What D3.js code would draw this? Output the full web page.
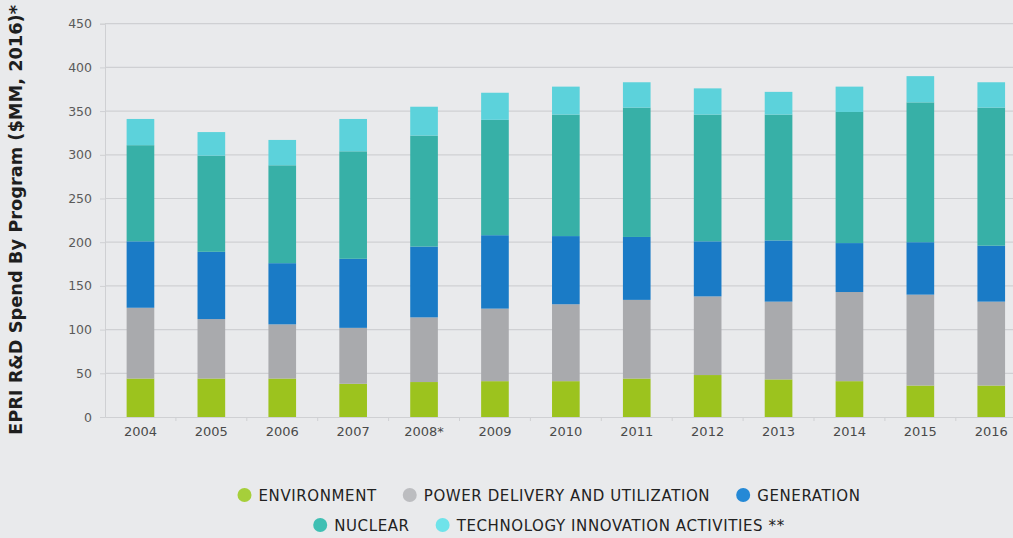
<!DOCTYPE html>
<html><head><meta charset="utf-8">
<script src="https://cdn.jsdelivr.net/npm/d3@7"></script>
<style>
html,body{margin:0;padding:0;background:#e9eaec;}
svg{display:block;}
</style></head>
<body>
<svg id="chart" width="1013" height="538"></svg>
<script>
const years = ["2004","2005","2006","2007","2008*","2009","2010","2011","2012","2013","2014","2015","2016"];
const environment = [44,44,44,38,40,41,41,44,48,43,41,36,36];
const powerDelivery = [81,68,62,64,74,83,88,90,90,89,102,104,96];
const generation = [76,77,70,79,81,84,78,72,63,70,56,60,64];
const nuclear = [110,110,112,123,127,132,139,148,145,144,150,160,158];
const techInnovation = [30,27,29,37,33,31,32,29,30,26,29,30,29];
const yTicks = [0,50,100,150,200,250,300,350,400,450];
const seriesNames = ["ENVIRONMENT","POWER DELIVERY AND UTILIZATION","GENERATION","NUCLEAR","TECHNOLOGY INNOVATION ACTIVITIES **"];
const seriesKeys = ["env","pd","gen","nuc","tech"];
const colors = ["#9cc31e","#a9aaad","#1a7bc6","#37b0a7","#5cd2db"];
const legendColors = ["#a6cf3a","#bcbdc0","#2589d6","#3fbfb3","#6fe3ea"];

const rows = years.map((yr,i)=>({year:yr, env:environment[i], pd:powerDelivery[i], gen:generation[i], nuc:nuclear[i], tech:techInnovation[i]}));
const stacked = d3.stack().keys(seriesKeys)(rows);

const svg = d3.select("#chart");
const mLeft = 105, mBottom = 417, mTop = 23.7;
const x = d3.scaleBand().domain(years).range([mLeft, mLeft + 13*70.9]).paddingInner(0.61).paddingOuter(0.305);
const y = d3.scaleLinear().domain([0,450]).range([mBottom, mTop]);

// gridlines
svg.append("g").selectAll("line").data(yTicks.slice(1)).join("line")
  .attr("x1", mLeft).attr("x2", 1013)
  .attr("y1", d=>y(d)).attr("y2", d=>y(d))
  .attr("stroke","#cfd0d3").attr("stroke-width",1.2);

// y axis
const yAxis = svg.append("g").attr("transform",`translate(${mLeft},0)`)
  .call(d3.axisLeft(y).tickValues(yTicks).tickSize(5).tickPadding(8));
yAxis.select(".domain").attr("stroke","#cfd0d3");
yAxis.selectAll(".tick line").attr("stroke","#cfd0d3");
yAxis.selectAll("text").attr("fill","#5a5a5a").style("font-family","'DejaVu Sans', sans-serif").style("font-size","12.5px");

// x axis
const xAxis = svg.append("g").attr("transform",`translate(0,${mBottom})`)
  .call(d3.axisBottom(x).tickSize(0).tickPadding(10));
xAxis.select(".domain").attr("stroke","#cfd0d3");
xAxis.selectAll("text").attr("fill","#4a4a4a").style("font-family","'DejaVu Sans', sans-serif").style("font-size","13px");
// small tick marks between bands
svg.append("g").selectAll("line").data(years.slice(1)).join("line")
  .attr("x1", d=>x(d)-x.step()*x.paddingInner()/2).attr("x2", d=>x(d)-x.step()*x.paddingInner()/2)
  .attr("y1", mBottom).attr("y2", mBottom+4)
  .attr("stroke","#cfd0d3");

// bars
svg.append("g").selectAll("g").data(stacked).join("g")
  .attr("fill",(d,i)=>colors[i])
  .selectAll("rect").data(d=>d).join("rect")
  .attr("x", d=>x(d.data.year))
  .attr("width", x.bandwidth())
  .attr("y", d=>y(d[1]))
  .attr("height", d=>y(d[0])-y(d[1]));

// y title
svg.append("text")
  .attr("transform","translate(22,220) rotate(-90)")
  .attr("text-anchor","middle")
  .attr("textLength",430).attr("lengthAdjust","spacingAndGlyphs")
  .style("font-family","'DejaVu Sans', sans-serif").style("font-weight","700").style("font-size","17px")
  .attr("fill","#1e1e1e")
  .text("EPRI R&D Spend By Program ($MM, 2016)*");

// legend
const legendRows = [[0,1,2],[3,4]];
const legendY = [495, 525];
const lg = svg.append("g").style("font-family","'DejaVu Sans', sans-serif").style("font-size","15px").style("letter-spacing","0.6px");
legendRows.forEach((row,ri)=>{
  const g = lg.append("g");
  let cx = 0;
  row.forEach((si,k)=>{
    const item = g.append("g").attr("transform",`translate(${cx},0)`);
    item.append("circle").attr("cx",7).attr("cy",0).attr("r",7).attr("fill",legendColors[si]);
    const t = item.append("text").attr("x",21).attr("y",5.5).attr("fill","#222").text(seriesNames[si]);
    cx += 21 + t.node().getComputedTextLength() + 26;
  });
  const w = cx - 26;
  g.attr("transform",`translate(${549 - w/2},${legendY[ri]})`);
});
</script>
</body></html>
